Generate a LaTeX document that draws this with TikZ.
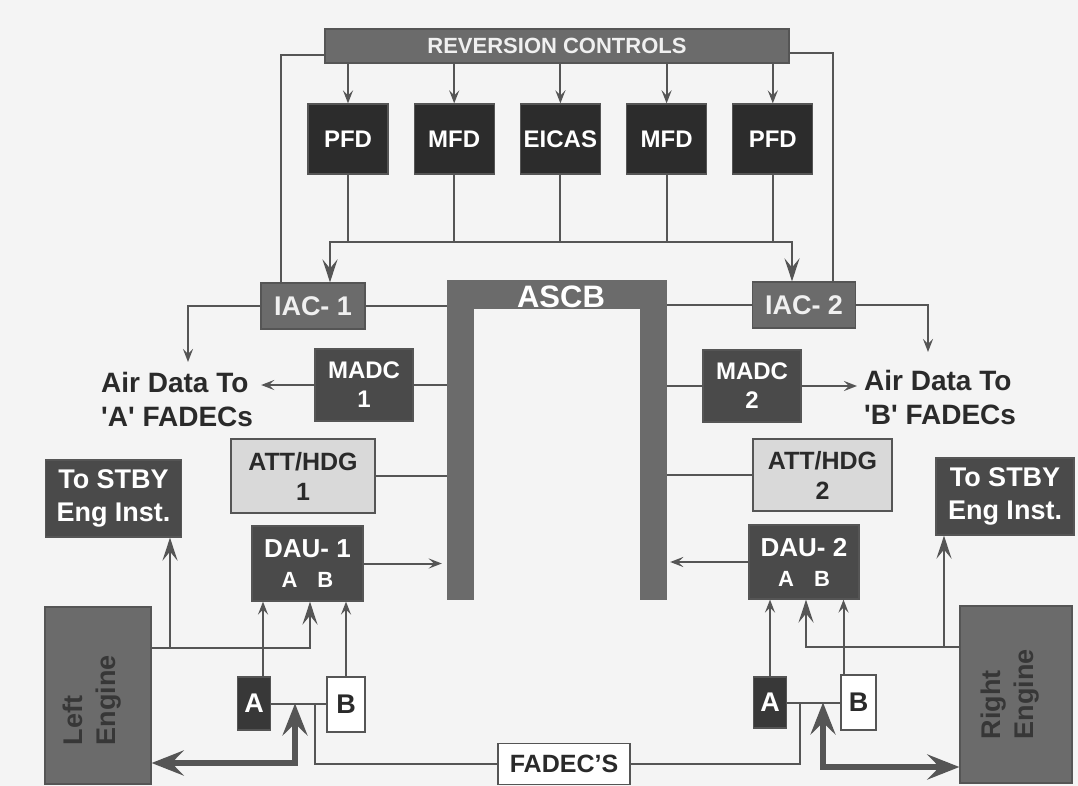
\documentclass[tikz,border=0pt]{standalone}
\usepackage{fontspec}
\setmainfont{Liberation Sans}
\usepackage{tikz}
\usetikzlibrary{positioning,arrows.meta}
\definecolor{avDisp}{HTML}{2C2C2C}
\definecolor{avDark}{HTML}{4A4A4A}
\definecolor{avMid}{HTML}{6B6B6B}
\definecolor{avLight}{HTML}{D9D9D9}
\definecolor{avLine}{HTML}{555555}
\definecolor{avText}{HTML}{2A2A2A}
\definecolor{avPaper}{HTML}{F4F4F4}
\newcommand{\lblfont}{\fontsize{24}{29}\selectfont\bfseries}
\newcommand{\bigfont}[1]{\fontsize{#1}{30}\selectfont\bfseries}
\newcommand{\abfont}{\fontsize{22}{28}\selectfont}
\tikzset{
  unit/.style={draw=avLine,line width=1.2pt,align=center,inner sep=0pt,font=\lblfont},
  disp/.style={unit,fill=avDisp,text=white,minimum width=80pt,minimum height=70pt},
  darkbox/.style={unit,fill=avDark,text=white},
  midbox/.style={unit,fill=avMid,text=white!94!black},
  lightbox/.style={unit,fill=avLight,text=avText},
  whitebox/.style={unit,fill=white,text=avText},
  busbar/.style={fill=avMid,inner sep=0pt},
  airtext/.style={anchor=west,align=left,inner sep=0pt,text=avText,
    font=\fontsize{28}{34}\selectfont\bfseries},
  engtext/.style={rotate=90,align=left,inner sep=0pt,text=avText!80!avMid,
    font=\fontsize{27}{33}\selectfont\bfseries},
  link/.style={draw=avLine,line width=2pt},
  arrow/.style={link,-{Stealth[length=13pt,width=10pt,inset=5pt]}},
  busarrow/.style={link,line width=2.6pt,-{Stealth[length=23pt,width=15pt,inset=9pt]}},
  fatarrow/.style={link,line width=5.5pt,
    {Stealth[length=32pt,width=25pt,inset=12pt]}-{Stealth[length=32pt,width=25pt,inset=12pt]}}
}
\begin{document}
\begin{tikzpicture}[x=1pt,y=-1pt]
  \fill[avPaper] (0,0) rectangle (1078,786);
  \useasboundingbox (0,0) rectangle (1078,786);

  \node[midbox,minimum width=464pt,minimum height=34pt,font=\fontsize{22}{26}\selectfont\bfseries] (rev) at (557,46) {REVERSION CONTROLS};
  \node[disp] (pfdL) at (348,139) {PFD};
  \node[disp,right=25pt of pfdL] (mfdL) {MFD};
  \node[disp,right=25pt of mfdL] (eicas) {EICAS};
  \node[disp,right=25pt of eicas] (mfdR) {MFD};
  \node[disp,right=25pt of mfdR] (pfdR) {PFD};

  \node[midbox,minimum width=104pt,minimum height=46pt,font=\bigfont{27}] (iacL) at (313,306) {IAC- 1};
  \node[midbox,minimum width=103pt,minimum height=46pt,font=\bigfont{27}] (iacR) at (804,305) {IAC- 2};

  \node[busbar,minimum width=27pt,minimum height=320pt] (ascbL) at (460.5,440) {};
  \node[busbar,minimum width=27pt,minimum height=320pt] (ascbR) at (653.5,440) {};
  \node[busbar,minimum width=220pt,minimum height=29pt] (ascb) at (557,294.5) {};
  \node[inner sep=0pt,text=white,font=\fontsize{31}{32}\selectfont\bfseries] (ascbTxt) at (561,297) {ASCB};

  \node[darkbox,minimum width=98pt,minimum height=72pt] (madcL) at (364,385) {MADC\\1};
  \node[darkbox,minimum width=98pt,minimum height=72pt] (madcR) at (752,386) {MADC\\2};
  \node[lightbox,minimum width=144pt,minimum height=74pt,font=\bigfont{25}] (attL) at (303,476) {ATT/HDG\\1};
  \node[lightbox,minimum width=139pt,minimum height=72pt,font=\bigfont{25}] (attR) at (822.5,475) {ATT/HDG\\2};
  \node[darkbox,minimum width=111pt,minimum height=75pt,font=\bigfont{26}] (dauL) at (307.5,563.5) {DAU- 1\\\abfont A\hspace{20pt}B};
  \node[darkbox,minimum width=110pt,minimum height=74pt,font=\bigfont{26}] (dauR) at (804,562) {DAU- 2\\\abfont A\hspace{20pt}B};

  \node[airtext] (airL) at (101,399) {Air Data To\\\textquotesingle A\textquotesingle{} FADECs};
  \node[airtext] (airR) at (864,397) {Air Data To\\\textquotesingle B\textquotesingle{} FADECs};

  \node[darkbox,minimum width=136pt,minimum height=77pt,font=\fontsize{27}{33}\selectfont\bfseries] (stbyL) at (113.5,498.5) {To STBY\\Eng Inst.};
  \node[darkbox,minimum width=138pt,minimum height=77pt,font=\fontsize{27}{33}\selectfont\bfseries] (stbyR) at (1005,496.5) {To STBY\\Eng Inst.};

  \node[midbox,minimum width=106pt,minimum height=177pt] (engL) at (98,695.5) {};
  \node[midbox,minimum width=112pt,minimum height=177pt] (engR) at (1016,694.5) {};
  \node[engtext] (engLtxt) at (92,700) {Left\\Engine};
  \node[engtext] (engRtxt) at (1010,694) {Right\\Engine};

  \node[darkbox,fill=avDisp!60!avDark,minimum width=33pt,minimum height=53pt,font=\bigfont{27}] (aL) at (254,703.5) {A};
  \node[whitebox,minimum width=38pt,minimum height=55pt,font=\bigfont{27}] (bL) at (346,704.5) {B};
  \node[darkbox,fill=avDisp!60!avDark,minimum width=33pt,minimum height=51pt,font=\bigfont{27}] (aR) at (770,702.5) {A};
  \node[whitebox,minimum width=35pt,minimum height=55pt,font=\bigfont{27}] (bR) at (858.5,702.5) {B};
  \node[whitebox,minimum width=132pt,minimum height=41pt,font=\bigfont{25}] (fadec) at (564,764) {FADEC'S};

  \draw[arrow] (pfdL.north |- rev.south) -- (pfdL.north);
  \draw[arrow] (mfdL.north |- rev.south) -- (mfdL.north);
  \draw[arrow] (eicas.north |- rev.south) -- (eicas.north);
  \draw[arrow] (mfdR.north |- rev.south) -- (mfdR.north);
  \draw[arrow] (pfdR.north |- rev.south) -- (pfdR.north);
  \coordinate (revL) at (281,55);
  \coordinate (revR) at (833,53);
  \draw[link] (revL -| rev.west) -- (revL) -- (revL |- iacL.north);
  \draw[link] (revR -| rev.east) -- (revR) -- (revR |- iacR.north);

  \coordinate (busL) at (330,242);
  \coordinate (busR) at (792,242);
  \draw[busarrow] (eicas.south |- busL) -- (busL) -- (busL |- iacL.north);
  \draw[busarrow] (eicas.south |- busR) -- (busR) -- (busR |- iacR.north);
  \draw[link] (pfdL.south) -- (pfdL.south |- busL);
  \draw[link] (mfdL.south) -- (mfdL.south |- busL);
  \draw[link] (eicas.south) -- (eicas.south |- busL);
  \draw[link] (mfdR.south) -- (mfdR.south |- busR);
  \draw[link] (pfdR.south) -- (pfdR.south |- busR);

  \coordinate (adLtip) at (188,362);
  \coordinate (adRtip) at (928,352);
  \draw[arrow] (iacL.west) -| (adLtip);
  \draw[arrow] (iacR.east) -| (adRtip);
  \draw[link] (iacL.east) -- (iacL.east -| ascbL.west);
  \draw[link] (iacR.west) -- (iacR.west -| ascbR.east);

  \draw[link] (madcL.east) -- (madcL.east -| ascbL.west);
  \draw[arrow] (madcL.west) -- ([xshift=8pt]airL.east |- madcL.west);
  \draw[link] (madcR.west) -- (madcR.west -| ascbR.east);
  \draw[arrow] (madcR.east) -- ([xshift=-7pt]airR.west |- madcR.east);
  \draw[link] (attL.east) -- (attL.east -| ascbL.west);
  \draw[link] (attR.west) -- (attR.west -| ascbR.east);
  \draw[arrow] (dauL.east) -- ([xshift=-5pt]dauL.east -| ascbL.west);
  \draw[arrow] (dauR.west) -- ([xshift=3pt]dauR.west -| ascbR.east);

  \coordinate (jL) at (310,648);
  \coordinate (sL) at (170,648);
  \coordinate (jR) at (806,647);
  \coordinate (sR) at (944,647);
  \draw[busarrow] (jL -| engL.east) -- (jL) -- (jL |- dauL.south);
  \draw[busarrow] (sL) -- (sL |- stbyL.south);
  \draw[busarrow] (jR -| engR.west) -- (jR) -- (jR |- dauR.south);
  \draw[busarrow] (sR) -- (sR |- stbyR.south);

  \draw[arrow] ([xshift=9pt]aL.north) -- ([xshift=9pt]aL.north |- dauL.south);
  \draw[arrow] (bL.north) -- (bL.north |- dauL.south);
  \draw[arrow] (aR.north) -- (aR.north |- dauR.south);
  \draw[arrow] ([xshift=-15pt]bR.north) -- ([xshift=-15pt]bR.north |- dauR.south);
  \draw[link] (aL.east) -- (aL.east -| bL.west);
  \draw[link] (aR.east) -- (aR.east -| bR.west);

  \coordinate (fL) at (315,764);
  \coordinate (fR) at (800,764);
  \draw[link] (fL |- aL.east) -- (fL) -- (fadec.west);
  \draw[link] (fR |- aR.east) -- (fR) -- (fadec.east);
  \coordinate (tL) at (295,763);
  \coordinate (tR) at (823,767);
  \draw[fatarrow] (tL |- aL.east) -- (tL) -- (tL -| engL.east);
  \draw[fatarrow] (tR |- aR.east) -- (tR) -- (tR -| engR.west);
\end{tikzpicture}
\end{document}
